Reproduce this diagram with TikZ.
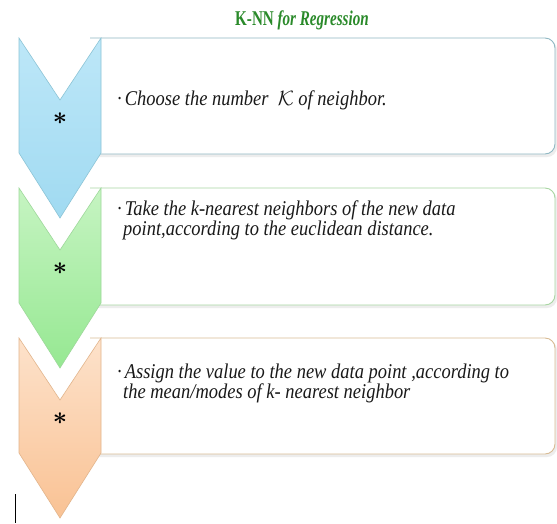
\documentclass[tikz,border=0pt]{standalone}
\usepackage{fontspec}
\setmainfont{Liberation Serif}
\newfontfamily\bodyfont[FakeStretch=0.88]{Liberation Serif}
\newfontfamily\titlefont[FakeStretch=0.72]{Liberation Serif}
\definecolor{blueTop}{HTML}{BDE7F8}
\definecolor{blueBot}{HTML}{A0DAF1}
\definecolor{blueBd}{HTML}{8CC4D6}
\definecolor{blueBox}{HTML}{8FB8C3}
\definecolor{greenTop}{HTML}{C6F4C2}
\definecolor{greenBot}{HTML}{96E892}
\definecolor{greenBd}{HTML}{9ED89B}
\definecolor{greenBox}{HTML}{A8D6A2}
\definecolor{orTop}{HTML}{FDE2CB}
\definecolor{orBot}{HTML}{F9C294}
\definecolor{orBd}{HTML}{E2B58C}
\definecolor{orBox}{HTML}{D8BB94}
\definecolor{titleGreen}{HTML}{2A8A2A}
\begin{document}
\begin{tikzpicture}[x=1pt,y=-1pt,
  txt/.style={anchor=base west, inner sep=0pt, font=\bodyfont\fontsize{21}{20}\selectfont\itshape, text=black!90, align=left},
  star/.style={inner sep=0pt, font=\fontsize{24}{24}\selectfont\boldmath},
  boxline/.style={line width=0.9pt, rounded corners=10pt},
  boxshadow/.style={fill=black!7, rounded corners=10pt},
  chev/.style={line width=0.6pt}
]
\useasboundingbox (0,0) rectangle (557,523);
\fill[white] (0,0) rectangle (557,523);

% title
\node[inner sep=0pt, text=titleGreen, font=\titlefont\fontsize{21}{22}\selectfont\bfseries] (title) at (302,20) {K-NN \textit{for Regression}};

% box shadows
\fill[boxshadow] (90,40) -- (557,40) -- (557,157) -- (90,157) -- cycle;
\fill[boxshadow] (90,190) -- (557,190) -- (557,308) -- (90,308) -- cycle;
\fill[boxshadow] (90,340) -- (557,340) -- (557,457) -- (90,457) -- cycle;

% boxes
\draw[boxline, draw=blueBox, fill=white] (90,38) -- (555,38) -- (555,154) -- (90,154);
\draw[boxline, draw=greenBox, fill=white] (90,188) -- (555,188) -- (555,305) -- (90,305);
\draw[boxline, draw=orBox, fill=white] (90,338) -- (555,338) -- (555,454) -- (90,454);

% chevrons
\path[chev, draw=blueBd, top color=blueTop, bottom color=blueBot]
  (19,38) -- (60,100) -- (101,38) -- (101,153) -- (60,218) -- (19,153) -- cycle;
\path[chev, draw=greenBd, top color=greenTop, bottom color=greenBot]
  (19,188) -- (60,250) -- (101,188) -- (101,303) -- (60,368) -- (19,303) -- cycle;
\path[chev, draw=orBd, top color=orTop, bottom color=orBot]
  (19,338) -- (60,400) -- (101,338) -- (101,453) -- (60,518) -- (19,453) -- cycle;

% asterisks
\node[star] (s1) at (60,119) {$\ast$};
\node[star] (s2) at (60,269) {$\ast$};
\node[star] (s3) at (60,419) {$\ast$};

% texts
\node[txt] (t1) at (117,105) {·\hspace{3pt}Choose the number\ \ $\mathcal{K}$ of neighbor.};
\node[txt] (t2) at (117,235) {·\hspace{3pt}Take the k-nearest neighbors of the new data\\\hspace*{6pt}point,according to the euclidean distance.};
\node[txt] (t3) at (117,398) {·\hspace{3pt}Assign the value to the new data point ,according to\\\hspace*{6pt}the mean/modes of k- nearest neighbor};

% cursor mark
\draw[line width=1pt] (15,494) -- (15,523);
\end{tikzpicture}
\end{document}
